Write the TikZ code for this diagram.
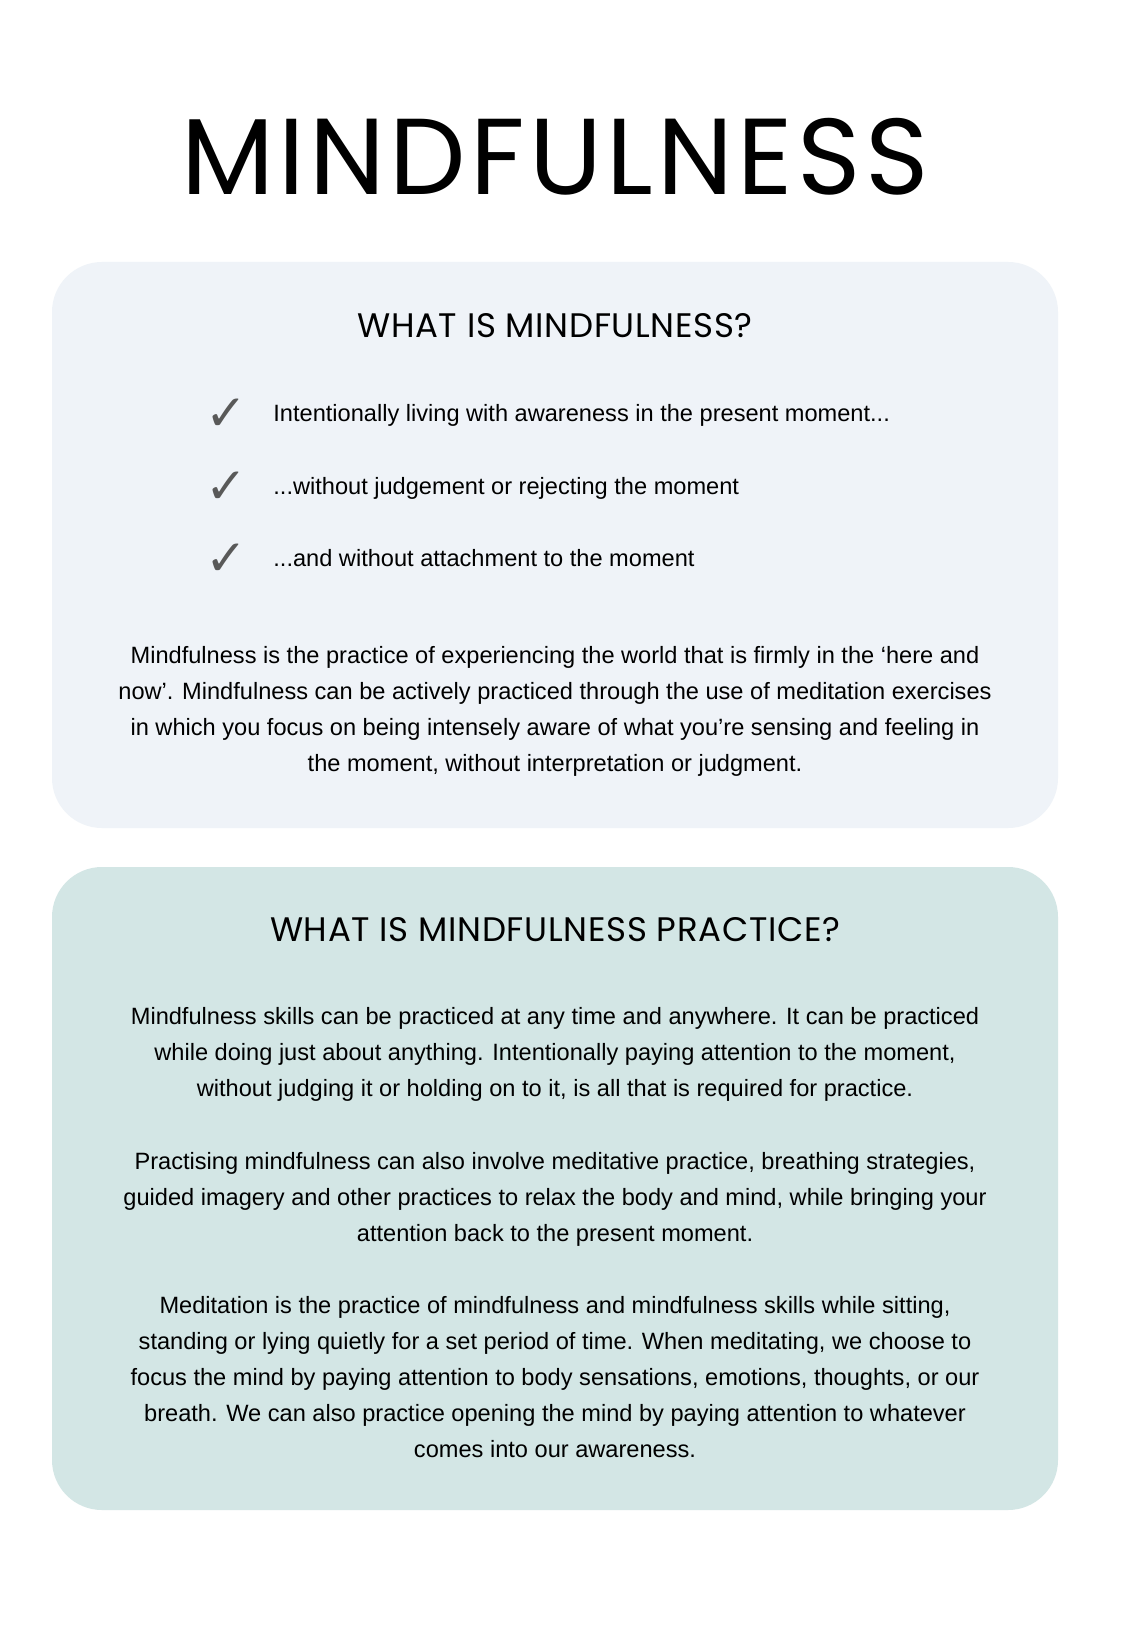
\documentclass[tikz,border=0pt]{standalone}
\usepackage{fontspec}
\setmainfont{Liberation Sans}
\newfontfamily\dejavu{DejaVu Sans}
\newfontfamily\titlef[LetterSpace=4]{Poppins}
\newfontfamily\headf[LetterSpace=2]{Poppins}
\begin{document}
\begin{tikzpicture}[x=0.5pt,y=-0.5pt,
  body/.style={font=\fontsize{11.8}{13}\selectfont,inner sep=0pt,anchor=base},
  lbody/.style={body,anchor=base west},
  chk/.style={font=\dejavu\fontsize{25}{26}\selectfont,text=black!65,inner sep=0pt,anchor=base},
  head/.style={font=\headf\fontsize{17}{19}\selectfont,inner sep=0pt,anchor=base},
  box/.style={rounded corners=25pt,draw=none}]
\useasboundingbox (0,0) rectangle (1146,1642);
\fill[white] (0,0) rectangle (1146,1642);
\fill[box,fill={rgb,255:red,239;green,243;blue,248}] (52,262) rectangle (1058,828);
\fill[box,fill={rgb,255:red,211;green,230;blue,229}] (52,867) rectangle (1058,1510);
\node[font=\titlef\fontsize{54}{60}\selectfont,inner sep=0pt,anchor=base] (t) at (555,195) {MINDFULNESS};
\node[head] (h1) at (555,337) {WHAT IS MINDFULNESS?};
\node[chk] (c1) at (226,430) {✓};
\node[chk] (c2) at (226,503) {✓};
\node[chk] (c3) at (226,575) {✓};
\node[lbody] (l1) at (273,421) {Intentionally living with awareness in the present moment...};
\node[lbody] (l2) at (273,494) {...without judgement or rejecting the moment};
\node[lbody] (l3) at (273,566) {...and without attachment to the moment};
\node[body] (p1) at (555,663) {Mindfulness is the practice of experiencing the world that is firmly in the ‘here and};
\node[body] (p2) at (555,699) {now’. Mindfulness can be actively practiced through the use of meditation exercises};
\node[body] (p3) at (555,735) {in which you focus on being intensely aware of what you’re sensing and feeling in};
\node[body] (p4) at (555,771) {the moment, without interpretation or judgment.};
\node[head] (h2) at (555,941) {WHAT IS MINDFULNESS PRACTICE?};
\node[body] (q1) at (555,1024) {Mindfulness skills can be practiced at any time and anywhere. It can be practiced};
\node[body] (q2) at (555,1060) {while doing just about anything. Intentionally paying attention to the moment,};
\node[body] (q3) at (555,1096) {without judging it or holding on to it, is all that is required for practice.};
\node[body] (r1) at (555,1169) {Practising mindfulness can also involve meditative practice, breathing strategies,};
\node[body] (r2) at (555,1205) {guided imagery and other practices to relax the body and mind, while bringing your};
\node[body] (r3) at (555,1241) {attention back to the present moment.};
\node[body] (s1) at (555,1313) {Meditation is the practice of mindfulness and mindfulness skills while sitting,};
\node[body] (s2) at (555,1349) {standing or lying quietly for a set period of time. When meditating, we choose to};
\node[body] (s3) at (555,1385) {focus the mind by paying attention to body sensations, emotions, thoughts, or our};
\node[body] (s4) at (555,1421) {breath. We can also practice opening the mind by paying attention to whatever};
\node[body] (s5) at (555,1457) {comes into our awareness.};
\end{tikzpicture}
\end{document}
